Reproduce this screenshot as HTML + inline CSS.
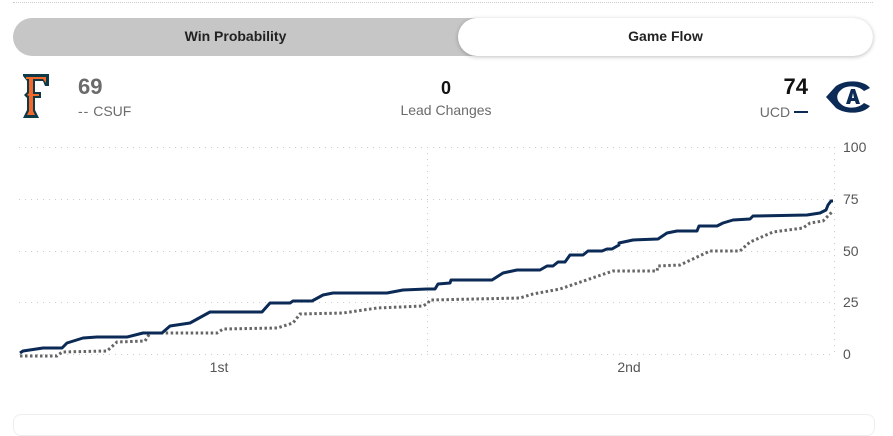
<!DOCTYPE html>
<html><head><meta charset="utf-8"><style>
html,body{margin:0;padding:0;background:#fff;width:893px;height:422px;overflow:hidden;font-family:"Liberation Sans",Arial,sans-serif;}
.abs{position:absolute}
</style></head><body>
<div class="abs" style="left:13px;top:2px;width:860px;border-top:1px dotted #ccc"></div>
<div class="abs" style="left:13px;top:18px;width:860px;height:38px;background:#c6c6c7;border-radius:19px"></div>
<div class="abs" style="left:458px;top:18px;width:415px;height:38px;background:#fff;border-radius:19px;box-shadow:0 1px 4px rgba(0,0,0,0.25)"></div>
<div class="abs" style="left:13px;top:28px;width:445px;text-align:center;font-size:14px;font-weight:bold;color:#222">Win Probability</div>
<div class="abs" style="left:458px;top:28px;width:415px;text-align:center;font-size:14px;font-weight:bold;color:#222">Game Flow</div>

<svg class="abs" style="left:22px;top:72px" width="28" height="48" viewBox="0 0 28 48">
<path d="M1 2 H27 V14 H23 L21 9 H13 V20 H19 V26 H13 V38 L17 46 H1 L5 38 V26 L2 23 L5 20 V9 L1 4Z" fill="#0e3a47"/>
<path d="M4 5 H24 V11 L21 7 H11 V22 H17 V24 H11 V39 L13 43 H5 L7 39 V24 L5 23 L7 21 V7 H4Z" fill="#f3692c"/>
</svg>
<div class="abs" style="left:78px;top:74px;font-size:22px;font-weight:bold;color:#6b6b6b">69</div>
<div class="abs" style="left:78px;top:103px;font-size:14px;color:#6b6b6b"><span style="letter-spacing:1px">--</span> CSUF</div>
<div class="abs" style="left:346px;top:78px;width:200px;text-align:center;font-size:18px;font-weight:bold;color:#111">0</div>
<div class="abs" style="left:346px;top:102px;width:200px;text-align:center;font-size:14px;color:#6b6b6b">Lead Changes</div>
<div class="abs" style="left:700px;top:74px;width:108px;text-align:right;font-size:22px;font-weight:bold;color:#111">74</div>
<div class="abs" style="left:700px;top:104px;width:108px;text-align:right;font-size:14px;color:#6b6b6b">UCD <span style="display:inline-block;width:14px;height:2px;background:#0b2a55;vertical-align:4px"></span></div>
<svg class="abs" style="left:824px;top:80px" width="48" height="34" viewBox="0 0 48 34">
<path d="M46 8 C40 0 22 -1 12 6 L2 17 L12 28 C22 35 40 34 46 26 L40 23 C34 29 22 29 17 24 C12 20 12 14 17 10 C22 5 34 5 40 11Z" fill="#0b2a55"/>
<path d="M22 24 L27 9 L31 9 L36 24 H32 L31 21 H27 L26 24Z M28 18 H30 L29 13Z" fill="#0b2a55"/>
</svg>

<svg class="abs" style="left:0;top:0" width="893" height="422">
<g stroke="#ccc" stroke-width="1" stroke-dasharray="1,5">
<line x1="19" y1="147.5" x2="834" y2="147.5"/>
<line x1="19" y1="199.5" x2="834" y2="199.5"/>
<line x1="19" y1="251.5" x2="834" y2="251.5"/>
<line x1="19" y1="302.5" x2="834" y2="302.5"/>
<line x1="19" y1="354.5" x2="834" y2="354.5"/>
<line x1="427.5" y1="147" x2="427.5" y2="354"/>
<line x1="834.5" y1="147" x2="834.5" y2="354"/>
</g>
<g font-size="14" fill="#555" font-family="Liberation Sans, sans-serif">
<text x="843" y="152">100</text><text x="843" y="204">75</text><text x="843" y="256">50</text><text x="843" y="307">25</text><text x="843" y="359">0</text>
<text x="219" y="372" text-anchor="middle">1st</text><text x="629" y="372" text-anchor="middle">2nd</text>
</g>
<polyline fill="none" stroke="#666" stroke-width="3" stroke-dasharray="2.5,2.5" points="20,356 57,356 62,352 107,351 117,342 145,341 150,333 217,333 223,329 277,328 293,323 300,314 343,313 377,308 423,306 428,303 430,300 520,298 533,294 560,289 607,273 613,271 657,271 658,266 680,265 710,251 740,251 750,242 773,232 803,228 810,223 823,221 833,211"/>
<polyline fill="none" stroke="#0b2a55" stroke-width="3" stroke-linejoin="round" points="20,353 23,351 43,348 62,348 67,343 83,338 97,337 127,337 143,333 162,333 170,326 190,323 210,312 262,312 270,303 290,303 293,301 312,301 323,295 333,293 387,293 403,290 427,289 435,289 438,284 450,283 451,280 492,280 503,273 517,270 540,270 547,266 553,266 558,262 565,262 570,255 583,255 588,251 602,251 607,249 612,249 619,245 619,243 633,240 658,239 667,233 677,231 697,231 699,226 717,226 723,223 733,220 750,219 753,216 807,215 820,213 826,210 828,205 831,201 833,201"/>
</svg>
<div class="abs" style="left:13px;top:414px;width:860px;height:20px;border:1px solid #eee;border-radius:8px"></div>
</body></html>
